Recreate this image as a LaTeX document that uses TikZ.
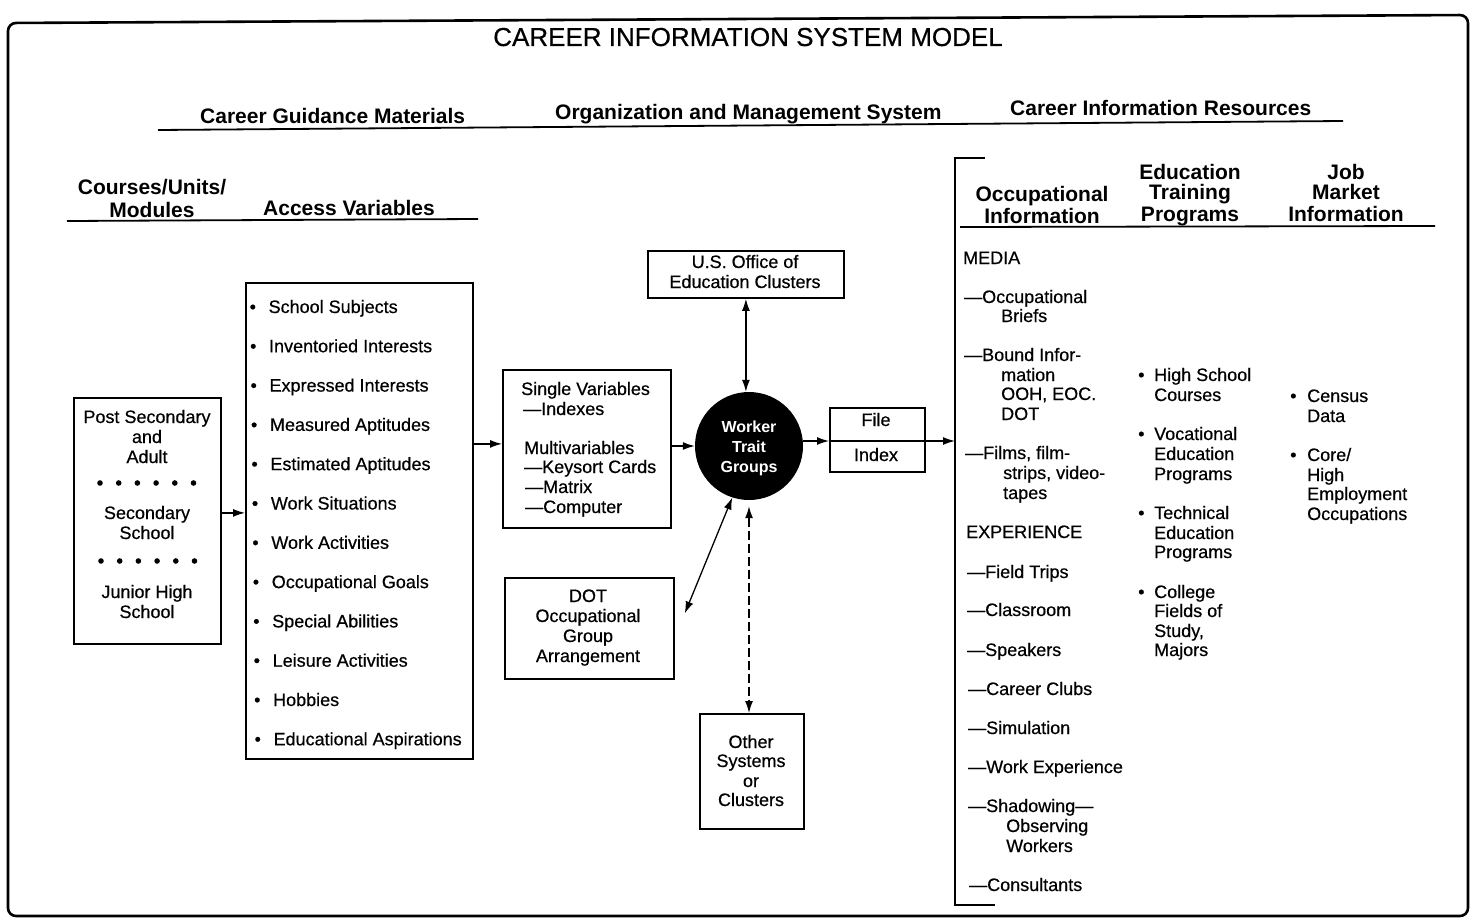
\documentclass[tikz,border=0pt]{standalone}
\usepackage{fontspec}
\setmainfont{Liberation Sans}
\newfontfamily\medfont{Liberation Sans}[FakeBold=0.5]
\usetikzlibrary{arrows.meta}
\begin{document}
\begin{tikzpicture}[x=1pt,y=-1pt,
 txt/.style={font=\medfont\fontsize{18}{20}\selectfont, inner sep=0pt, anchor=base west},
 ctxt/.style={txt, anchor=base},
 hdr/.style={font=\bfseries\fontsize{21}{22}\selectfont, inner sep=0pt, anchor=base west},
 chdr/.style={hdr, anchor=base},
 wtxt/.style={font=\bfseries\fontsize{16}{18}\selectfont, text=white, inner sep=0pt, anchor=base},
 box/.style={draw, line width=1.8pt, anchor=north west, inner sep=0pt},
 rule/.style={line width=1.8pt},
 arr/.style={-{Latex[length=12pt,width=8pt]}, line width=1.3pt},
 darr/.style={{Latex[length=12pt,width=8pt]}-{Latex[length=12pt,width=8pt]}, line width=1.3pt},
]
\useasboundingbox (0,0) rectangle (1474,920);
\fill[white] (0,0) rectangle (1474,920);
\draw[line width=2.6pt, rounded corners=8pt] (8,23) -- (1468,15) -- (1468,916) -- (8,916) -- cycle;

% title and headers
\node[font=\medfont\fontsize{26}{28}\selectfont, inner sep=0pt, anchor=base] (title) at (748,46) {CAREER INFORMATION SYSTEM MODEL};
\node[hdr] (h1) at (200,124) {Career Guidance Materials};
\node[hdr] (h2) at (555,120) {Organization and Management System};
\node[hdr] (h3) at (1010,116) {Career Information Resources};
\draw[rule] (158,130) -- (1343,121);

\node[chdr] (cu1) at (152,195) {Courses/Units/};
\node[chdr] (cu2) at (152,217) {Modules};
\node[hdr] (av) at (263,215) {Access Variables};
\draw[rule] (67,221) -- (478,219);

\node[chdr] (oi1) at (1042,201) {Occupational};
\node[chdr] (oi2) at (1042,223) {Information};
\node[chdr] (et1) at (1190,179) {Education};
\node[chdr] (et2) at (1190,200) {Training};
\node[chdr] (et3) at (1190,222) {Programs};
\node[chdr] (jm1) at (1346,179) {Job};
\node[chdr] (jm2) at (1346,200) {Market};
\node[chdr] (jm3) at (1346,222) {Information};
\draw[rule] (960,227) -- (1435,226);

% boxes
\node[box, minimum width=147pt, minimum height=246pt] (lvl) at (73,397) {};
\node[box, minimum width=227pt, minimum height=476pt] (acc) at (245,282) {};
\node[box, minimum width=168pt, minimum height=158pt] (sv) at (502,369) {};
\node[box, minimum width=196pt, minimum height=47pt] (us) at (647,250) {};
\node[box, minimum width=169pt, minimum height=101pt] (dot) at (504,577) {};
\node[box, minimum width=104pt, minimum height=115pt] (oth) at (699,713) {};
\node[box, minimum width=95pt, minimum height=64pt] (file) at (829,407) {};
\node[circle, fill=black, minimum size=108pt, inner sep=0pt] (circ) at (749,446) {};

% left box text
\node[ctxt] (l1) at (147,423) {Post Secondary};
\node[ctxt] (l2) at (147,443) {and};
\node[ctxt] (l3) at (147,463) {Adult};
\node[ctxt] (l4) at (147,519) {Secondary};
\node[ctxt] (l5) at (147,539) {School};
\node[ctxt] (l6) at (147,598) {Junior High};
\node[ctxt] (l7) at (147,618) {School};
\foreach \k in {0,...,5} {
  \fill (100+18.7*\k,483) circle (2.8pt);
  \fill (101+18.7*\k,561) circle (2.8pt);
}

% access variables
\foreach \tx [count=\i] in {School Subjects, Inventoried Interests, Expressed Interests, Measured Aptitudes, Estimated Aptitudes, Work Situations, Work Activities, Occupational Goals, Special Abilities, Leisure Activities, Hobbies, Educational Aspirations}
  \node[txt] (a\i) at ({249+0.45*\i},{307+6+39.3*(\i-1)}) {\makebox[19pt][l]{•}\tx};

% single variables box
\node[txt] (s1) at (521,395) {Single Variables};
\node[txt] (s2) at (523,415) {—Indexes};
\node[txt] (s3) at (524,454) {Multivariables};
\node[txt] (s4) at (524,473) {—Keysort Cards};
\node[txt] (s5) at (525,493) {—Matrix};
\node[txt] (s6) at (525,513) {—Computer};

% US office
\node[ctxt] (u1) at (745,268) {U.S. Office of};
\node[ctxt] (u2) at (745,288) {Education Clusters};

% circle text
\node[wtxt] (w1) at (749,432) {Worker};
\node[wtxt] (w2) at (749,452) {Trait};
\node[wtxt] (w3) at (749,472) {Groups};

% DOT
\node[ctxt] (d1) at (588,602) {DOT};
\node[ctxt] (d2) at (588,622) {Occupational};
\node[ctxt] (d3) at (588,642) {Group};
\node[ctxt] (d4) at (588,662) {Arrangement};

% other
\node[ctxt] (o1) at (751,748) {Other};
\node[ctxt] (o2) at (751,767) {Systems};
\node[ctxt] (o3) at (751,787) {or};
\node[ctxt] (o4) at (751,806) {Clusters};

% file index
\node[ctxt] (f1) at (876,426) {File};
\node[ctxt] (f2) at (876,461) {Index};

% bracket
\coordinate (brT) at (985,158);
\coordinate (brTL) at (955,158);
\coordinate (brBL) at (955,905);
\coordinate (brB) at (995,905);
\coordinate (brA) at (955,441);
\draw[rule] (brT) -- (brTL) -- (brBL) -- (brB);

% connectors
\draw[arr] ([yshift=8pt]lvl.east) -- ([yshift=8pt]lvl.east -| acc.west);
\draw[arr] ([yshift=5pt]sv.west -| acc.east) -- ([yshift=5pt]sv.west);
\draw[arr] (circ.west -| sv.east) -- (circ.west);
\draw[darr] (us.south) -- (circ.north -| us.south);
\coordinate (dotend) at ([xshift=10pt,yshift=15pt]dot.east);
\draw[darr] (circ.-108) -- (dotend);
\draw[darr, dashed, dash pattern=on 9pt off 4pt] ([yshift=-6pt]circ.south) -- (oth.north -| circ.south);
\coordinate (fl) at ([yshift=5pt]circ.east -| file.west);
\coordinate (fr) at ([yshift=5pt]circ.east -| file.east);
\draw[arr] ([yshift=5pt]circ.east) -- (fl);
\draw[line width=1.3pt] (fl) -- (fr);
\draw[arr] (fr) -- (brA);

% column 1
\foreach \x/\y/\tx [count=\i] in {963/264/MEDIA, 964/303/{—Occupational}, 1001/322/Briefs,
  964/361/{—Bound Infor-}, 1001/381/mation, 1001/400/{OOH, EOC.}, 1001/420/DOT,
  965/459/{—Films, film-}, 1003/479/{strips, video-}, 1003/499/tapes,
  966/538/EXPERIENCE, 967/578/{—Field Trips}, 967/616/{—Classroom}, 967/656/{—Speakers},
  968/695/{—Career Clubs}, 968/734/{—Simulation}, 968/773/{—Work Experience},
  968/812/{—Shadowing—}, 1006/832/Observing, 1006/852/Workers, 969/891/{—Consultants}}
  \node[txt] (c\i) at (\x,\y) {\tx};

% column 2
\foreach \y in {381,440,519,598}
  \node[txt] at (1138,\y) {•};
\foreach \y/\tx [count=\i] in {381/{High School}, 401/Courses, 440/Vocational, 460/Education, 480/Programs,
  519/Technical, 539/Education, 558/Programs, 598/College, 617/{Fields of}, 637/{Study,}, 656/Majors}
  \node[txt] (e\i) at (1154,\y) {\tx};

% column 3
\foreach \y in {402,461}
  \node[txt] at (1290,\y) {•};
\foreach \y/\tx [count=\i] in {402/Census, 422/Data, 461/{Core/}, 481/High, 500/Employment, 520/Occupations}
  \node[txt] (j\i) at (1307,\y) {\tx};
\end{tikzpicture}
\end{document}
